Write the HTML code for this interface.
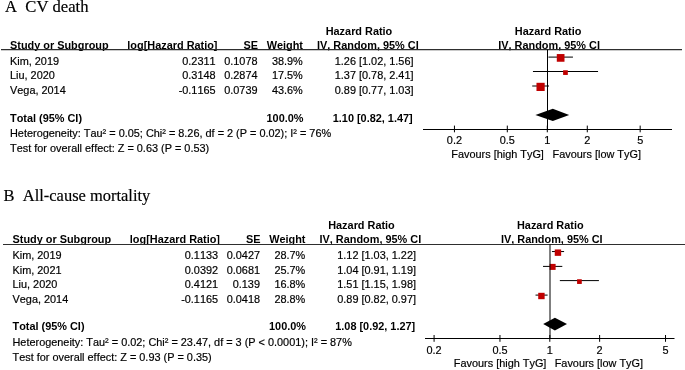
<!DOCTYPE html>
<html><head><meta charset="utf-8"><title>Forest plot</title>
<style>html,body{margin:0;padding:0;background:#fff}svg{display:block}
text{fill:#000;font-kerning:none;white-space:pre;stroke:#000;stroke-width:0.18px}
text[font-weight=bold]{stroke:none}
.s{font-family:"Liberation Sans",Arial,sans-serif;font-size:10.9px}
.r{font-family:"Liberation Serif","Times New Roman",serif}</style></head>
<body><svg width="685" height="370" viewBox="0 0 685 370">
<rect width="685" height="370" fill="#fff"/>
<text class="r" xml:space="preserve" font-size="16.4" transform="translate(5.0,11.7) scale(1.014,1)">A  CV death</text>
<text class="s" x="359.00" y="34.60" text-anchor="middle" font-weight="bold">Hazard Ratio</text>
<text class="s" x="548.10" y="34.60" text-anchor="middle" font-weight="bold">Hazard Ratio</text>
<text class="s" x="10.00" y="48.70" font-weight="bold">Study or Subgroup</text>
<text class="s" x="217.50" y="48.70" text-anchor="end" font-weight="bold">log[Hazard Ratio]</text>
<text class="s" x="258.00" y="48.70" text-anchor="end" font-weight="bold">SE</text>
<text class="s" x="303.00" y="48.70" text-anchor="end" font-weight="bold">Weight</text>
<text class="s" x="317.00" y="48.70" font-weight="bold">IV, Random, 95% CI</text>
<text class="s" x="549.10" y="48.70" text-anchor="middle" font-weight="bold">IV, Random, 95% CI</text>
<line x1="1.00" y1="49.65" x2="682.00" y2="49.65" stroke="#2e2e2e" stroke-width="1.15"/>
<text class="s" x="10.00" y="64.50">Kim, 2019</text>
<text class="s" x="215.60" y="64.50" text-anchor="end">0.2311</text>
<text class="s" x="257.50" y="64.50" text-anchor="end">0.1078</text>
<text class="s" x="302.80" y="64.50" text-anchor="end">38.9%</text>
<text class="s" x="413.50" y="64.50" text-anchor="end">1.26 [1.02, 1.56]</text>
<line x1="548.44" y1="57.10" x2="572.96" y2="57.10" stroke="#000" stroke-width="1"/>
<rect x="556.79" y="54.05" width="7.7" height="7.7" fill="#c00000"/>
<text class="s" x="10.00" y="78.90">Liu, 2020</text>
<text class="s" x="215.60" y="78.90" text-anchor="end">0.3148</text>
<text class="s" x="257.50" y="78.90" text-anchor="end">0.2874</text>
<text class="s" x="302.80" y="78.90" text-anchor="end">17.5%</text>
<text class="s" x="413.50" y="78.90" text-anchor="end">1.37 [0.78, 2.41]</text>
<line x1="532.96" y1="71.50" x2="598.05" y2="71.50" stroke="#000" stroke-width="1"/>
<rect x="563.11" y="70.25" width="4.7" height="4.7" fill="#c00000"/>
<text class="s" x="10.00" y="93.50">Vega, 2014</text>
<text class="s" x="215.60" y="93.50" text-anchor="end">-0.1165</text>
<text class="s" x="257.50" y="93.50" text-anchor="end">0.0739</text>
<text class="s" x="302.80" y="93.50" text-anchor="end">43.6%</text>
<text class="s" x="413.50" y="93.50" text-anchor="end">0.89 [0.77, 1.03]</text>
<line x1="532.22" y1="86.00" x2="549.01" y2="86.00" stroke="#000" stroke-width="1"/>
<rect x="536.48" y="82.80" width="8.2" height="8.2" fill="#c00000"/>
<text class="s" x="10.00" y="121.70" font-weight="bold">Total (95% CI)</text>
<text class="s" x="303.50" y="121.70" text-anchor="end" font-weight="bold">100.0%</text>
<text class="s" x="412.70" y="121.70" text-anchor="end" font-weight="bold">1.10 [0.82, 1.47]</text>
<text class="s" x="10.00" y="136.90">Heterogeneity: Tau² = 0.05; Chi² = 8.26, df = 2 (P = 0.02); I² = 76%</text>
<text class="s" x="10.00" y="152.15">Test for overall effect: Z = 0.63 (P = 0.53)</text>
<polygon points="535.4,114.9 552.8,108.7 569.2,114.9 552.8,121.10000000000001" fill="#000"/>
<line x1="547.50" y1="49.65" x2="547.50" y2="129.50" stroke="#000" stroke-width="1"/>
<line x1="423.00" y1="129.50" x2="672.00" y2="129.50" stroke="#000" stroke-width="1"/>
<line x1="454.44" y1="125.60" x2="454.44" y2="132.30" stroke="#000" stroke-width="1"/>
<text class="s" x="454.44" y="144.10" text-anchor="middle">0.2</text>
<line x1="507.31" y1="125.60" x2="507.31" y2="132.30" stroke="#000" stroke-width="1"/>
<text class="s" x="507.31" y="144.10" text-anchor="middle">0.5</text>
<line x1="547.30" y1="125.60" x2="547.30" y2="132.30" stroke="#000" stroke-width="1"/>
<text class="s" x="547.30" y="144.10" text-anchor="middle">1</text>
<line x1="587.29" y1="125.60" x2="587.29" y2="132.30" stroke="#000" stroke-width="1"/>
<text class="s" x="587.29" y="144.10" text-anchor="middle">2</text>
<line x1="640.16" y1="125.60" x2="640.16" y2="132.30" stroke="#000" stroke-width="1"/>
<text class="s" x="640.16" y="144.10" text-anchor="middle">5</text>
<text class="s" x="543.90" y="157.50" text-anchor="end">Favours [high TyG]</text>
<text class="s" x="552.60" y="157.50">Favours [low TyG]</text>
<text class="r" xml:space="preserve" font-size="16.4" transform="translate(3.6,201.0) scale(1.004,1)">B  All-cause mortality</text>
<text class="s" x="361.50" y="228.90" text-anchor="middle" font-weight="bold">Hazard Ratio</text>
<text class="s" x="550.30" y="228.90" text-anchor="middle" font-weight="bold">Hazard Ratio</text>
<text class="s" x="12.50" y="243.40" font-weight="bold">Study or Subgroup</text>
<text class="s" x="220.00" y="243.40" text-anchor="end" font-weight="bold">log[Hazard Ratio]</text>
<text class="s" x="260.50" y="243.40" text-anchor="end" font-weight="bold">SE</text>
<text class="s" x="305.50" y="243.40" text-anchor="end" font-weight="bold">Weight</text>
<text class="s" x="319.50" y="243.40" font-weight="bold">IV, Random, 95% CI</text>
<text class="s" x="551.80" y="243.40" text-anchor="middle" font-weight="bold">IV, Random, 95% CI</text>
<line x1="3.00" y1="244.50" x2="685.00" y2="244.50" stroke="#2e2e2e" stroke-width="1.05"/>
<text class="s" x="12.50" y="259.20">Kim, 2019</text>
<text class="s" x="218.10" y="259.20" text-anchor="end">0.1133</text>
<text class="s" x="260.00" y="259.20" text-anchor="end">0.0427</text>
<text class="s" x="305.30" y="259.20" text-anchor="end">28.7%</text>
<text class="s" x="416.00" y="259.20" text-anchor="end">1.12 [1.03, 1.22]</text>
<line x1="551.93" y1="251.55" x2="564.10" y2="251.55" stroke="#000" stroke-width="1"/>
<rect x="554.75" y="249.45" width="6.4" height="6.4" fill="#c00000"/>
<text class="s" x="12.50" y="274.05">Kim, 2021</text>
<text class="s" x="218.10" y="274.05" text-anchor="end">0.0392</text>
<text class="s" x="260.00" y="274.05" text-anchor="end">0.0681</text>
<text class="s" x="305.30" y="274.05" text-anchor="end">25.7%</text>
<text class="s" x="416.00" y="274.05" text-anchor="end">1.04 [0.91, 1.19]</text>
<line x1="543.02" y1="266.40" x2="562.31" y2="266.40" stroke="#000" stroke-width="1"/>
<rect x="549.62" y="263.90" width="6" height="6" fill="#c00000"/>
<text class="s" x="12.50" y="288.15">Liu, 2020</text>
<text class="s" x="218.10" y="288.15" text-anchor="end">0.4121</text>
<text class="s" x="260.00" y="288.15" text-anchor="end">0.139</text>
<text class="s" x="305.30" y="288.15" text-anchor="end">16.8%</text>
<text class="s" x="416.00" y="288.15" text-anchor="end">1.51 [1.15, 1.98]</text>
<line x1="559.85" y1="280.60" x2="598.91" y2="280.60" stroke="#000" stroke-width="1"/>
<rect x="577.08" y="279.25" width="4.7" height="4.7" fill="#c00000"/>
<text class="s" x="12.50" y="302.95">Vega, 2014</text>
<text class="s" x="218.10" y="302.95" text-anchor="end">-0.1165</text>
<text class="s" x="260.00" y="302.95" text-anchor="end">0.0418</text>
<text class="s" x="305.30" y="302.95" text-anchor="end">28.8%</text>
<text class="s" x="416.00" y="302.95" text-anchor="end">0.89 [0.82, 0.97]</text>
<line x1="535.53" y1="295.10" x2="547.61" y2="295.10" stroke="#000" stroke-width="1"/>
<rect x="538.22" y="292.80" width="6.4" height="6.4" fill="#c00000"/>
<text class="s" x="12.50" y="330.30" font-weight="bold">Total (95% CI)</text>
<text class="s" x="306.00" y="330.30" text-anchor="end" font-weight="bold">100.0%</text>
<text class="s" x="415.20" y="330.30" text-anchor="end" font-weight="bold">1.08 [0.92, 1.27]</text>
<text class="s" x="12.50" y="346.45">Heterogeneity: Tau² = 0.02; Chi² = 23.47, df = 3 (P &lt; 0.0001); I² = 87%</text>
<text class="s" x="12.50" y="360.50">Test for overall effect: Z = 0.93 (P = 0.35)</text>
<polygon points="543.2,324.1 554.9,317.8 567.0,324.1 554.9,330.40000000000003" fill="#000"/>
<line x1="550.00" y1="244.50" x2="550.00" y2="338.50" stroke="#000" stroke-width="1"/>
<line x1="425.00" y1="338.50" x2="674.50" y2="338.50" stroke="#000" stroke-width="1"/>
<line x1="434.08" y1="335.00" x2="434.08" y2="341.80" stroke="#000" stroke-width="1"/>
<text class="s" x="434.08" y="353.80" text-anchor="middle">0.2</text>
<line x1="499.96" y1="335.00" x2="499.96" y2="341.80" stroke="#000" stroke-width="1"/>
<text class="s" x="499.96" y="353.80" text-anchor="middle">0.5</text>
<line x1="549.80" y1="335.00" x2="549.80" y2="341.80" stroke="#000" stroke-width="1"/>
<text class="s" x="549.80" y="353.80" text-anchor="middle">1</text>
<line x1="599.64" y1="335.00" x2="599.64" y2="341.80" stroke="#000" stroke-width="1"/>
<text class="s" x="599.64" y="353.80" text-anchor="middle">2</text>
<line x1="665.52" y1="335.00" x2="665.52" y2="341.80" stroke="#000" stroke-width="1"/>
<text class="s" x="665.52" y="353.80" text-anchor="middle">5</text>
<text class="s" x="546.40" y="367.00" text-anchor="end">Favours [high TyG]</text>
<text class="s" x="554.70" y="367.00">Favours [low TyG]</text>
</svg></body></html>
